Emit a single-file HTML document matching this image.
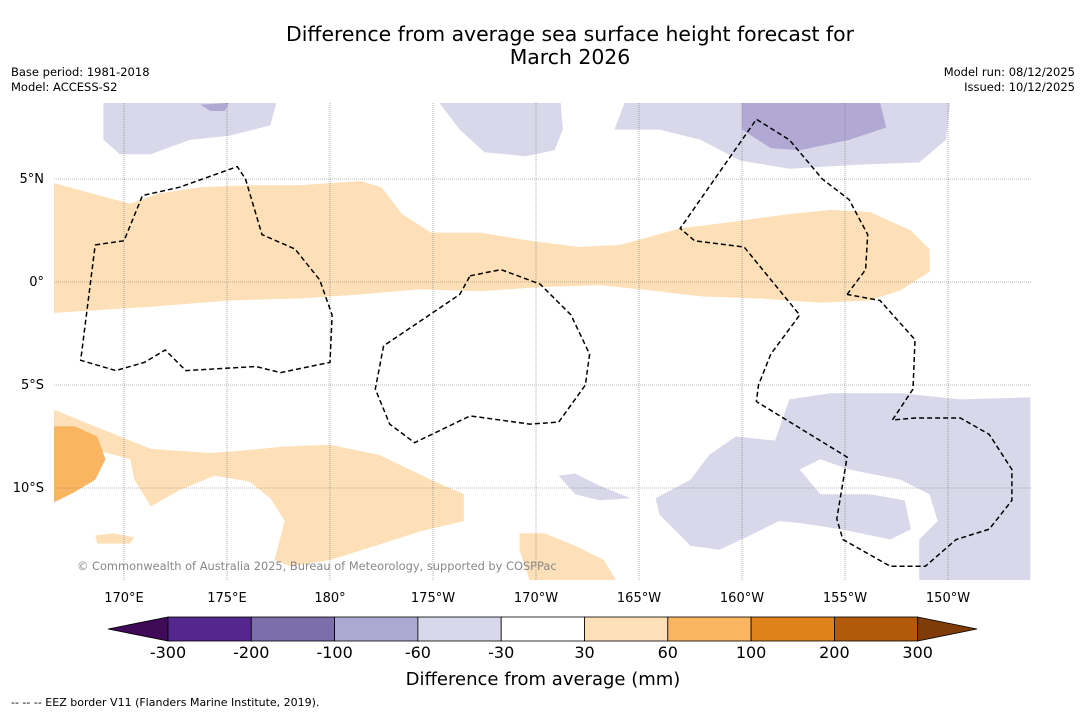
<!DOCTYPE html>
<html><head><meta charset="utf-8"><style>
body{margin:0;background:#fff;font-family:"DejaVu Sans","Liberation Sans",sans-serif}
svg{display:block}
</style></head><body>
<svg id="chart" width="1085" height="713" viewBox="0 0 1085 713" font-family="DejaVu Sans, Liberation Sans, sans-serif">
<rect width="1085" height="713" fill="#fff"/>
<text x="570" y="41" font-size="20.4" text-anchor="middle">Difference from average sea surface height forecast for</text>
<text x="570" y="64" font-size="20.4" text-anchor="middle">March 2026</text>
<text x="11" y="76" font-size="11.5">Base period: 1981-2018</text>
<text x="11" y="91" font-size="11.5">Model: ACCESS-S2</text>
<text x="1075" y="76" font-size="11.5" text-anchor="end">Model run: 08/12/2025</text>
<text x="1075" y="91" font-size="11.5" text-anchor="end">Issued: 10/12/2025</text>
<g id="map"></g>
<g id="cbar"></g>
<text x="543" y="685" font-size="18" text-anchor="middle">Difference from average (mm)</text>
<text x="11" y="706" font-size="11">--  --  -- EEZ border V11 (Flanders Marine Institute, 2019).</text>
</svg>
<script>
const lonTicks=[170,175,180,185,190,195,200,205,210];
const lonTickLabels=["170°E","175°E","180°","175°W","170°W","165°W","160°W","155°W","150°W"];
const latTicks=[5,0,-5,-10];
const latTickLabels=["5°N","0°","5°S","10°S"];
const cbarLabels=["-300","-200","-100","-60","-30","30","60","100","200","300"];
const cbarColors=["#3f0a57","#54278f","#7b6eab","#ada8d2","#d8d8ea","#ffffff","#fde0b7","#f9b55f","#e0821a","#b35a0a","#7f3b08"];
const bandOrange=[[166.6,4.8],[168.8,4.2],[170.3,3.8],[171.7,4.3],[173.7,4.6],[176.1,4.7],[178.5,4.7],[181.5,4.9],[182.5,4.6],[183.5,3.3],[184.9,2.4],[187.3,2.4],[189.7,2.0],[192.1,1.7],[194.1,1.8],[197.0,2.6],[199.4,2.9],[202.3,3.3],[204.3,3.5],[206.2,3.4],[208.2,2.5],[209.1,1.6],[209.1,0.5],[207.7,-0.4],[206.2,-0.9],[203.8,-1.0],[200.9,-0.8],[198.0,-0.7],[195.5,-0.4],[193.1,-0.15],[190.2,-0.25],[187.3,-0.45],[184.4,-0.35],[181.5,-0.6],[178.5,-0.8],[175.1,-0.9],[171.3,-1.2],[166.6,-1.5]];
const southOrange=[[166.6,-6.2],[170.3,-7.7],[171.3,-8.1],[174.2,-8.3],[175.6,-8.2],[177.6,-8.0],[180.0,-7.9],[182.4,-8.4],[184.9,-9.6],[186.5,-10.3],[186.5,-11.6],[184.4,-12.1],[181.9,-12.9],[180.0,-13.5],[178.1,-13.8],[177.3,-13.5],[177.8,-11.6],[177.1,-10.5],[176.1,-9.7],[174.4,-9.4],[172.7,-10.1],[171.3,-10.9],[170.5,-9.6],[170.3,-8.6],[168.8,-8.2],[167.9,-8.4],[166.6,-10.6]];
const southOrangeDark=[[166.6,-7.0],[167.6,-7.0],[168.7,-7.5],[169.1,-8.6],[168.6,-9.6],[167.6,-10.2],[166.6,-10.7]];
const centreOrange=[[189.2,-12.2],[190.4,-12.2],[191.9,-12.8],[193.3,-13.5],[193.9,-14.5],[189.7,-14.5],[189.2,-13.0]];
const smallOrange=[[168.6,-12.3],[169.5,-12.2],[170.5,-12.4],[170.3,-12.7],[168.7,-12.7]];
const lavTopLeft=[[169.0,8.7],[177.4,8.7],[177.1,7.6],[175.1,7.1],[173.2,6.9],[171.3,6.2],[169.8,6.2],[169.0,6.9]];
const lavTopMid=[[185.3,8.7],[191.2,8.7],[191.3,7.4],[190.9,6.4],[189.5,6.1],[187.5,6.3],[186.3,7.4]];
const lavTopRight=[[194.3,8.7],[210.1,8.7],[209.9,6.9],[208.6,5.8],[205.7,5.7],[202.3,5.5],[199.9,5.9],[198.0,6.9],[196.0,7.4],[193.8,7.4]];
const purpTopRight=[[200.0,8.7],[206.7,8.7],[207.0,7.5],[205.2,6.9],[202.8,6.4],[201.4,6.5],[200.0,7.4]];
const purpTopLeft=[[173.7,8.6],[175.1,8.7],[174.9,8.3],[174.2,8.3]];
const lavSouthEast=[[201.6,-7.7],[202.3,-5.7],[204.3,-5.4],[207.7,-5.4],[210.6,-5.7],[214.0,-5.6],[214.0,-14.5],[208.6,-14.5],[208.6,-12.5],[209.5,-11.6],[209.1,-10.3],[207.7,-9.6],[205.2,-9.1],[203.8,-8.6],[202.8,-9.1],[203.8,-10.3],[206.2,-10.3],[207.9,-10.6],[208.2,-12.0],[207.2,-12.5],[204.8,-12.0],[202.8,-11.7],[201.8,-11.6],[200.4,-12.3],[198.9,-13.0],[197.5,-12.8],[196.0,-11.3],[195.8,-10.5],[197.5,-9.6],[198.4,-8.4],[199.7,-7.5]];
const lavSmall=[[191.1,-9.4],[191.9,-9.3],[193.1,-9.9],[194.6,-10.5],[193.1,-10.6],[191.9,-10.3]];
const eezGilbert=[[168.6,1.8],[170.0,2.0],[170.9,4.2],[172.7,4.6],[175.5,5.6],[175.9,5.0],[176.7,2.3],[178.3,1.6],[179.5,0.1],[180.1,-1.6],[180.0,-3.9],[177.6,-4.4],[176.4,-4.1],[173.0,-4.3],[172.0,-3.3],[171.0,-3.9],[169.6,-4.3],[167.9,-3.8],[168.6,1.8]];
const eezPhoenix=[[186.8,0.3],[188.3,0.6],[190.2,-0.1],[191.7,-1.6],[192.6,-3.5],[192.4,-5.0],[191.1,-6.8],[189.7,-6.9],[186.8,-6.5],[184.1,-7.8],[182.9,-6.9],[182.2,-5.2],[182.6,-3.1],[186.3,-0.6],[186.8,0.3]];
const eezLine=[[205.1,-0.6],[206.0,0.6],[206.1,2.3],[205.2,4.0],[203.9,5.0],[202.3,6.9],[200.7,7.9],[197.0,2.6],[197.7,2.0],[200.1,1.7],[202.8,-1.6],[201.4,-3.5],[200.8,-5.0],[200.7,-5.8],[205.1,-8.5],[204.6,-11.5],[204.9,-12.5],[207.2,-13.8],[208.9,-13.8],[210.4,-12.5],[212.0,-12.0],[213.1,-10.6],[213.1,-9.1],[212.0,-7.4],[210.6,-6.6],[208.4,-6.6],[207.3,-6.7],[208.3,-5.2],[208.4,-2.8],[206.7,-0.9],[205.1,-0.6]];

const NS="http://www.w3.org/2000/svg";
const X0=54,X1=1031,Y0=103,Y1=580;
const xs=lon=>124+(lon-170)*20.6;
const ys=lat=>282-lat*20.6;
const map=document.getElementById('map');
function mk(tag,attrs,parent){const e=document.createElementNS(NS,tag);for(const k in attrs)e.setAttribute(k,attrs[k]);parent.appendChild(e);return e;}
const defs=mk('defs',{},map);
const cp=mk('clipPath',{id:'mc'},defs);mk('rect',{x:X0,y:Y0,width:X1-X0,height:Y1-Y0},cp);
const g=mk('g',{'clip-path':'url(#mc)'},map);
function poly(pts,fill,name,closed=true){
  const d=pts.map((p,i)=>(i?'L':'M')+xs(p[0]).toFixed(1)+' '+ys(p[1]).toFixed(1)).join(' ')+(closed?'Z':'');
  const e=mk('path',{d:d},g);
  if(fill){e.setAttribute('fill',fill);}else{e.setAttribute('fill','none');e.setAttribute('stroke','#000');e.setAttribute('stroke-width','1.5');e.setAttribute('stroke-dasharray','5,3');}
  
  
}
poly(bandOrange,'#fde0b7','equatorial-positive-band');
poly(southOrange,'#fde0b7','south-positive-region');
poly(southOrangeDark,'#f9b55f','south-strong-positive-region');
poly(centreOrange,'#fde0b7','central-positive-region');
poly(smallOrange,'#fde0b7','small-positive-region');
poly(lavTopLeft,'#d8d8ea','north-west-negative-region');
poly(lavTopMid,'#d8d8ea','north-central-negative-region');
poly(lavTopRight,'#d8d8ea','north-east-negative-region');
poly(purpTopRight,'#b1a9d3','north-east-strong-negative-region');
poly(purpTopLeft,'#b1a9d3','north-west-strong-negative-region');
poly(lavSouthEast,'#d8d8ea','south-east-negative-region');
poly(lavSmall,'#d8d8ea','small-negative-region');
lonTicks.forEach((lon,i)=>{
  const l=mk('line',{x1:xs(lon),x2:xs(lon),y1:Y0,y2:Y1,stroke:'#777','stroke-width':0.6,'stroke-dasharray':'1,1'},g);
  
  
  const t=mk('text',{x:xs(lon),y:602,'font-size':13,'text-anchor':'middle'},map);t.textContent=lonTickLabels[i];
  
  
});
latTicks.forEach((lat,i)=>{
  const l=mk('line',{x1:X0,x2:X1,y1:ys(lat),y2:ys(lat),stroke:'#777','stroke-width':0.6,'stroke-dasharray':'1,1'},g);
  
  
  const t=mk('text',{x:44,y:ys(lat)+4,'font-size':13,'text-anchor':'end'},map);t.textContent=latTickLabels[i];
  
  
});
poly(eezGilbert,null,'eez-border-gilbert',false);
poly(eezPhoenix,null,'eez-border-phoenix',false);
poly(eezLine,null,'eez-border-line-islands',false);
const cr=mk('text',{x:77,y:570,'font-size':11.4,fill:'#888'},map);
cr.textContent='© Commonwealth of Australia 2025, Bureau of Meteorology, supported by COSPPac';



const cb=document.getElementById('cbar');
const bx0=168,bw=83.3,cy0=617,cy1=641;
const n=cbarColors.length-2;
const lt=mk('path',{d:`M108 629 L${bx0} ${cy0} L${bx0} ${cy1}Z`,fill:cbarColors[0],stroke:'#000','stroke-width':0.8},cb);


for(let i=0;i<n;i++){
  const r=mk('rect',{x:bx0+i*bw,y:cy0,width:bw,height:cy1-cy0,fill:cbarColors[i+1],stroke:'#000','stroke-width':0.8},cb);
  
  
}
const xe=bx0+n*bw;
const rt=mk('path',{d:`M${xe} ${cy0} L977 629 L${xe} ${cy1}Z`,fill:cbarColors[cbarColors.length-1],stroke:'#000','stroke-width':0.8},cb);


cbarLabels.forEach((s,i)=>{
  const t=mk('text',{x:bx0+i*bw,y:658,'font-size':16,'text-anchor':'middle'},cb);t.textContent=s;
  
  
});
</script>
</body></html>
